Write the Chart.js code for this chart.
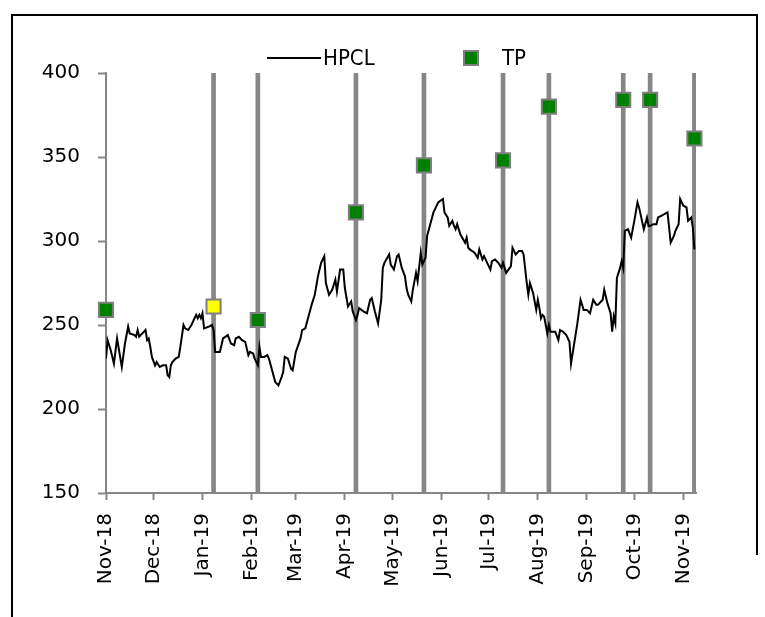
<!DOCTYPE html>
<html>
<head>
<meta charset="utf-8">
<script src="https://cdn.jsdelivr.net/npm/chart.js@4.4.1/dist/chart.umd.min.js"></script>
<style>
  html, body { margin: 0; padding: 0; background: #fff; }
  #wrap { position: relative; width: 765px; height: 617px; }
  #legend { position: absolute; left: 0; top: 0; width: 765px; height: 80px; pointer-events: none;
            font-family: "DejaVu Sans Condensed", "DejaVu Sans", sans-serif; font-stretch: condensed; font-size: 22px; color: #000; }
  #legend .item { position: absolute; top: 45px; height: 26px; line-height: 26px; }
  #legend .line { position: absolute; top: 12px; height: 2px; background: #000; }
  #legend .box { position: absolute; top: 5px; width: 16px; height: 16px; box-sizing: border-box; border: 2px solid #7f7f7f; }
  #legend .txt { position: absolute; white-space: nowrap; }
</style>
</head>
<body>
<div id="wrap">
  <canvas id="chart" width="765" height="617"></canvas>
  <div id="legend"></div>
</div>
<script>
// x values are days counted from 1 Nov 2018
const monthDays = [0, 30, 61, 92, 120, 151, 181, 212, 242, 273, 304, 334, 365];
const monthLabels = ['Nov-18', 'Dec-18', 'Jan-19', 'Feb-19', 'Mar-19', 'Apr-19', 'May-19',
                     'Jun-19', 'Jul-19', 'Aug-19', 'Sep-19', 'Oct-19', 'Nov-19'];

const hpclDays = [
  0, 1, 3, 5, 7, 10, 12, 14, 15, 18, 19, 20, 21, 23, 25, 26, 27, 28, 29, 31,
  32, 34, 36, 38, 39, 40, 41, 42, 44, 46, 47, 49, 50, 52, 54, 57, 58, 59, 60, 61,
  62, 65, 67, 68, 69, 72, 74, 77, 79, 81, 82, 84, 86, 88, 90, 91, 93, 94, 96, 97,
  98, 100, 102, 103, 105, 107, 109, 111, 112, 113, 115, 117, 118, 120, 123, 124, 126, 128, 130, 132,
  134, 136, 138, 139, 141, 143, 145, 146, 148, 150, 151, 153, 155, 156, 158, 159, 160, 163, 165, 167,
  168, 170, 172, 174, 175, 176, 179, 180, 182, 184, 185, 187, 189, 190, 191, 193, 194, 196, 197, 199,
  200, 202, 203, 205, 207, 208, 210, 213, 214, 216, 217, 219, 220, 221, 222, 224, 227, 228, 229, 230,
  233, 235, 236, 238, 239, 241, 243, 244, 246, 248, 250, 251, 253, 256, 257, 259, 261, 263, 264, 266,
  267, 268, 270, 272, 273, 274, 275, 276, 277, 279, 280, 281, 284, 286, 287, 289, 291, 293, 294, 296,
  298, 300, 302, 304, 306, 308, 310, 311, 313, 314, 315, 317, 319, 320, 321, 322, 323, 325, 326, 327,
  328, 330, 332, 334, 336, 337, 340, 342, 343, 344, 346, 348, 349, 351, 353, 355, 357, 359, 360, 362,
  363, 365, 367, 368, 370, 371, 372
];
const hpclValues = [
  230, 241, 235, 227, 242, 225, 239, 249, 245, 244, 243, 247, 243, 245, 247, 241, 242, 237, 231, 226,
  228, 225, 226, 226, 220, 219, 226, 228, 230, 231, 237, 250, 248, 247, 250, 256, 254, 256, 254, 257,
  248, 249, 250, 247, 234, 234, 242, 244, 239, 238, 242, 243, 241, 240, 232, 234, 233, 230, 226, 237,
  231, 231, 232, 230, 223, 216, 214, 219, 222, 231, 230, 224, 223, 234, 242, 247, 248, 255, 262, 268,
  279, 287, 291, 275, 268, 271, 277, 270, 283, 283, 272, 261, 264, 258, 253, 256, 260, 258, 257, 265,
  266, 258, 251, 265, 284, 287, 292, 286, 283, 291, 292, 284, 279, 272, 268, 264, 271, 281, 276, 293,
  286, 290, 303, 310, 317, 319, 323, 325, 317, 314, 309, 312, 309, 307, 310, 304, 299, 302, 296, 295,
  293, 290, 295, 289, 291, 287, 283, 288, 289, 287, 284, 287, 281, 285, 296, 292, 294, 294, 292, 275,
  268, 275, 269, 259, 265, 260, 254, 256, 255, 245, 250, 246, 246, 241, 247, 246, 244, 240, 227, 239,
  251, 265, 259, 259, 257, 265, 262, 262, 264, 265, 271, 263, 257, 246, 255, 251, 278, 284, 288, 284,
  306, 307, 302, 312, 323, 320, 307, 314, 309, 309, 310, 310, 314, 315, 316, 317, 299, 303, 306, 310,
  325, 321, 320, 312, 314, 308, 295
];

const tpDays = [0, 68, 96, 158, 201, 251, 280, 327, 344, 372];
const tpValues = [259, 261, 253, 317, 345, 348, 380, 384, 384, 361];
// signal dates drawn as vertical bars
const signalDays = [68, 96, 158, 201, 251, 280, 327, 344, 372];

const yMin = 150;
const yMax = 400;

// styles
const GREY = '#868686';
const tpFill = ['#008000', '#ffff00', '#008000', '#008000', '#008000',
                '#008000', '#008000', '#008000', '#008000', '#008000'];
const tickFont = { family: 'DejaVu Sans', size: 20 };

// outer frame of the original picture
const framePlugin = {
  id: 'frame',
  afterDraw(chart) {
    const ctx = chart.ctx;
    ctx.save();
    ctx.strokeStyle = '#000';
    ctx.lineWidth = 2;
    ctx.beginPath();
    ctx.moveTo(12, 617);
    ctx.lineTo(12, 15);
    ctx.lineTo(757, 15);
    ctx.lineTo(757, 555);
    ctx.stroke();
    ctx.restore();
  }
};

const ctx = document.getElementById('chart').getContext('2d');
const chart = new Chart(ctx, {
  type: 'line',
  data: {
    datasets: [
      {
        type: 'bar',
        label: 'signal',
        data: signalDays.map(d => ({ x: d, y: [yMin, yMax] })),
        backgroundColor: GREY,
        barThickness: 4,
        order: 3
      },
      {
        type: 'line',
        label: 'HPCL',
        data: hpclDays.map((d, i) => ({ x: d, y: hpclValues[i] })),
        borderColor: '#000',
        backgroundColor: '#000',
        borderWidth: 2,
        pointRadius: 0,
        tension: 0,
        order: 2
      },
      {
        type: 'scatter',
        label: 'TP',
        data: tpDays.map((d, i) => ({ x: d, y: tpValues[i] })),
        pointStyle: 'rect',
        pointRadius: 10,
        pointHoverRadius: 10,
        pointBackgroundColor: tpFill,
        backgroundColor: '#008000',
        pointBorderColor: '#7f7f7f',
        borderColor: '#7f7f7f',
        pointBorderWidth: 2,
        clip: false,
        order: 1
      }
    ]
  },
  options: {
    responsive: false,
    animation: false,
    layout: { padding: { left: 0, top: 73, right: 69, bottom: 0 } },
    plugins: {
      legend: { display: false },
      tooltip: { enabled: false }
    },
    scales: {
      x: {
        type: 'linear',
        min: 0,
        max: 373,
        offset: false,
        grid: { drawOnChartArea: false, offset: false, color: GREY, tickColor: GREY, tickLength: 7, tickWidth: 2 },
        border: { color: GREY, width: 2 },
        afterBuildTicks: (scale) => {
          scale.ticks = monthDays.map(v => ({ value: v }));
        },
        afterFit: (scale) => { scale.height = 124; },
        ticks: {
          autoSkip: false,
          minRotation: 90,
          maxRotation: 90,
          padding: 13,
          color: '#000',
          font: tickFont,
          callback: (value) => monthLabels[monthDays.indexOf(value)]
        }
      },
      y: {
        min: yMin,
        max: yMax,
        grid: { drawOnChartArea: false, color: GREY, tickColor: GREY, tickLength: 8, tickWidth: 2 },
        border: { color: GREY, width: 2 },
        afterFit: (scale) => { scale.width = 106; },
        ticks: {
          stepSize: 50,
          padding: 18,
          color: '#000',
          font: tickFont
        }
      }
    }
  },
  plugins: [framePlugin]
});

// legend built from the HPCL and TP datasets
const legendEl = document.getElementById('legend');
const legendItems = [
  { ds: chart.data.datasets[1], kind: 'line', x: 267 },
  { ds: chart.data.datasets[2], kind: 'box', x: 463 }
];
legendItems.forEach(it => {
  const item = document.createElement('div');
  item.className = 'item';
  item.style.left = it.x + 'px';
  const sym = document.createElement('div');
  const txt = document.createElement('div');
  txt.className = 'txt';
  txt.textContent = it.ds.label;
  if (it.kind === 'line') {
    sym.className = 'line';
    sym.style.left = '0px';
    sym.style.width = '54px';
    txt.style.left = '56px';
  } else {
    sym.className = 'box';
    sym.style.left = '0px';
    sym.style.background = it.ds.backgroundColor;
    txt.style.left = '39px';
  }
  item.appendChild(sym);
  item.appendChild(txt);
  legendEl.appendChild(item);
});
</script>
</body>
</html>
